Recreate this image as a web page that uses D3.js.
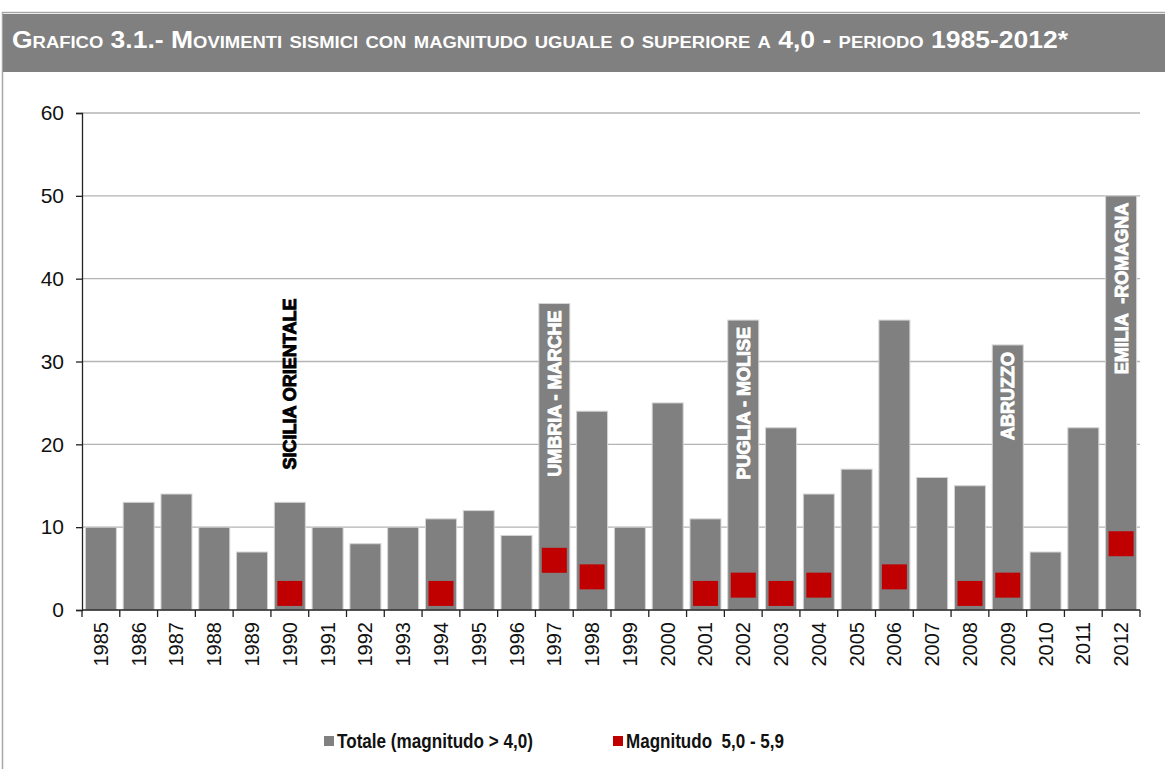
<!DOCTYPE html>
<html>
<head>
<meta charset="utf-8">
<script src="https://d3js.org/d3.v7.min.js"></script>
<style>
  body { margin: 0; background: #fff; }
  svg { display: block; }
</style>
</head>
<body>
<div id="chart"></div>
<script>

// data
var years = ["1985","1986","1987","1988","1989","1990","1991","1992","1993","1994",
  "1995","1996","1997","1998","1999","2000","2001","2002","2003","2004",
  "2005","2006","2007","2008","2009","2010","2011","2012"]
var totale = [10,13,14,10,7,13,10,8,10,11,12,9,37,24,10,25,11,35,22,14,17,35,16,15,32,7,22,50]
var magnitudo5 = [null,null,null,null,null,2,null,null,null,2,null,null,6,4,null,null,2,3,2,3,null,4,null,2,3,null,null,8]
var yTicks = [0,10,20,30,40,50,60]
var seriesNames = ["Totale (magnitudo > 4,0)", "Magnitudo  5,0 - 5,9"]
var eventYears = ["1990","1997","2002","2009","2012"]
var eventNames = ["SICILIA ORIENTALE","UMBRIA - MARCHE","PUGLIA - MOLISE","ABRUZZO","EMILIA  -ROMAGNA"]

var W = 1165, H = 769
var gray = "#808080", red = "#c00000"
var sans = "'Liberation Sans', Arial, sans-serif"

var svg = d3.select("#chart").append("svg")
  .attr("width", W)
  .attr("height", H)

// frame + header band
svg.append("rect")
  .attr("x", 2.5).attr("y", 12.5)
  .attr("width", W + 10).attr("height", H)
  .style("fill", "white")
  .style("stroke", "#a6a6a6")
  .style("stroke-width", 1.5)

svg.append("rect")
  .attr("x", 3).attr("y", 14)
  .attr("width", W).attr("height", 58)
  .style("fill", gray)

// condensed look: squeeze the glyphs with textLength
svg.append("text")
  .attr("x", 12)
  .attr("y", 48)
  .attr("textLength", 1056)
  .attr("lengthAdjust", "spacingAndGlyphs")
  .style("font-family", sans)
  .style("font-weight", "bold")
  .style("font-size", "23px")
  .style("font-variant", "small-caps")
  .style("fill", "white")
  .text("Grafico 3.1.- Movimenti sismici con magnitudo uguale o superiore a 4,0 - periodo 1985-2012*")

// scales
var x = d3.scaleBand()
  .domain(years)
  .range([82, 1140])
  .paddingInner(0.18)
  .paddingOuter(0.09)

var y = d3.scaleLinear()
  .domain([0, 60])
  .range([610, 113])

// gridlines
svg.append("g")
  .selectAll("line")
  .data(yTicks.slice(1))
  .enter().append("line")
  .attr("x1", 82).attr("x2", 1140)
  .attr("y1", d => y(d)).attr("y2", d => y(d))
  .style("stroke", "#b4b4b4")
  .style("stroke-width", 1.3)

// y axis
var yAxis = svg.append("g")
  .attr("transform", "translate(82,0)")
  .call(d3.axisLeft(y).tickValues(yTicks).tickSize(6).tickPadding(12).tickFormat(d3.format("d")))
yAxis.select(".domain").style("stroke", "#222").style("stroke-width", 1.3)
yAxis.selectAll(".tick line").style("stroke", "#222").style("stroke-width", 1.3)
yAxis.selectAll("text")
  .style("font-family", sans)
  .style("font-size", "21px")
  .style("fill", "#111")

// bars
svg.append("g")
  .selectAll("rect")
  .data(years)
  .enter().append("rect")
  .attr("x", d => x(d))
  .attr("width", x.bandwidth())
  .attr("y", (d, i) => y(totale[i]))
  .attr("height", (d, i) => y(0) - y(totale[i]))
  .style("fill", gray)
  .style("stroke", "#d4d4d4")
  .style("stroke-width", 1)

// red markers
var mSize = 25
svg.append("g")
  .selectAll("rect")
  .data(years.filter((d, i) => magnitudo5[i] != null))
  .enter().append("rect")
  .attr("x", d => x(d) + x.bandwidth() / 2 - mSize / 2)
  .attr("y", d => y(magnitudo5[years.indexOf(d)]) - mSize / 2)
  .attr("width", mSize)
  .attr("height", mSize)
  .style("fill", red)

// x axis
var xAxis = svg.append("g")
  .attr("transform", "translate(0,610)")
xAxis.append("line")
  .attr("x1", 82).attr("x2", 1140)
  .style("stroke", "#222").style("stroke-width", 1.5)
xAxis.selectAll(".tk")
  .data(d3.range(years.length + 1))
  .enter().append("line")
  .attr("class", "tk")
  .attr("x1", i => 82 + (1140 - 82) * i / years.length)
  .attr("x2", i => 82 + (1140 - 82) * i / years.length)
  .attr("y1", 0).attr("y2", 7)
  .style("stroke", "#222").style("stroke-width", 1.3)
xAxis.selectAll("text")
  .data(years)
  .enter().append("text")
  .attr("transform", d => "translate(" + (x(d) + x.bandwidth() / 2 + 7) + ",12) rotate(-90)")
  .attr("text-anchor", "end")
  .style("font-family", sans)
  .style("font-size", "20px")
  .style("fill", "#111")
  .text(d => d)

// event labels
svg.append("g")
  .selectAll("text")
  .data(eventYears)
  .enter().append("text")
  .attr("transform", function(d, i) {
    var top = i == 0 ? y(37.6) : y(totale[years.indexOf(d)]) + 7
    return "translate(" + (x(d) + x.bandwidth() / 2 + 6.5) + "," + top + ") rotate(-90)"
  })
  .attr("text-anchor", "end")
  .style("font-family", sans)
  .style("font-weight", "bold")
  .style("font-size", "18px")
  .style("fill", (d, i) => i == 0 ? "black" : "white")
  .style("stroke", (d, i) => i == 0 ? "black" : "white")
  .style("stroke-width", 0.9)
  .style("white-space", "pre")
  .text((d, i) => eventNames[i])

// legend
var legendX = [324, 613]
var legendLen = [196, 158]
var legendColors = [gray, red]
var legend = svg.append("g")
legend.selectAll("rect")
  .data(seriesNames)
  .enter().append("rect")
  .attr("x", (d, i) => legendX[i])
  .attr("y", 736)
  .attr("width", 10)
  .attr("height", 10)
  .style("fill", (d, i) => legendColors[i])
legend.selectAll("text")
  .data(seriesNames)
  .enter().append("text")
  .attr("x", (d, i) => legendX[i] + 13)
  .attr("y", 748)
  .attr("textLength", (d, i) => legendLen[i])
  .attr("lengthAdjust", "spacingAndGlyphs")
  .style("font-family", sans)
  .style("font-weight", "bold")
  .style("font-size", "21px")
  .style("white-space", "pre")
  .style("fill", "#111")
  .text(d => d)

</script>
</body>
</html>
